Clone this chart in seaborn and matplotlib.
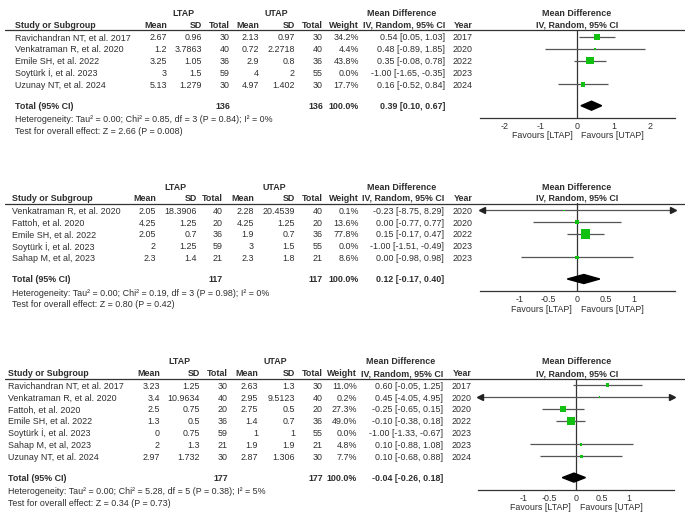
import numpy as np
import pandas as pd
import matplotlib
matplotlib.use("Agg")
import matplotlib.pyplot as plt
import seaborn as sns

# ---- data: panel 1 ----
p1_study = ["Ravichandran NT, et al. 2017", "Venkatraman R, et al. 2020", "Emile SH, et al. 2022",
            "Soytürk İ, et al. 2023", "Uzunay NT, et al. 2024"]
p1_l_mean = [2.67, 1.2, 3.25, 3, 5.13]
p1_l_sd = [0.96, 3.7863, 1.05, 1.5, 1.279]
p1_l_n = [30, 40, 36, 59, 30]
p1_u_mean = [2.13, 0.72, 2.9, 4, 4.97]
p1_u_sd = [0.97, 2.2718, 0.8, 2, 1.402]
p1_u_n = [30, 40, 36, 55, 30]
p1_weight = [34.2, 4.4, 43.8, 0.0, 17.7]
p1_md = [0.54, 0.48, 0.35, -1.00, 0.16]
p1_lo = [0.05, -0.89, -0.08, -1.65, -0.52]
p1_hi = [1.03, 1.85, 0.78, -0.35, 0.84]
p1_year = [2017, 2020, 2022, 2023, 2024]
p1_total = [136, 136, 0.39, 0.10, 0.67]
p1_het = "Heterogeneity: Tau² = 0.00; Chi² = 0.85, df = 3 (P = 0.84); I² = 0%"
p1_test = "Test for overall effect: Z = 2.66 (P = 0.008)"
p1_ticks = [-2, -1, 0, 1, 2]

# ---- data: panel 2 ----
p2_study = ["Venkatraman R, et al. 2020", "Fattoh, et al. 2020", "Emile SH, et al. 2022",
            "Soytürk İ, et al. 2023", "Sahap M, et al, 2023"]
p2_l_mean = [2.05, 4.25, 2.05, 2, 2.3]
p2_l_sd = [18.3906, 1.25, 0.7, 1.25, 1.4]
p2_l_n = [40, 20, 36, 59, 21]
p2_u_mean = [2.28, 4.25, 1.9, 3, 2.3]
p2_u_sd = [20.4539, 1.25, 0.7, 1.5, 1.8]
p2_u_n = [40, 20, 36, 55, 21]
p2_weight = [0.1, 13.6, 77.8, 0.0, 8.6]
p2_md = [-0.23, 0.00, 0.15, -1.00, 0.00]
p2_lo = [-8.75, -0.77, -0.17, -1.51, -0.98]
p2_hi = [8.29, 0.77, 0.47, -0.49, 0.98]
p2_year = [2020, 2020, 2022, 2023, 2023]
p2_total = [117, 117, 0.12, -0.17, 0.40]
p2_het = "Heterogeneity: Tau² = 0.00; Chi² = 0.19, df = 3 (P = 0.98); I² = 0%"
p2_test = "Test for overall effect: Z = 0.80 (P = 0.42)"
p2_ticks = [-1, -0.5, 0, 0.5, 1]

# ---- data: panel 3 ----
p3_study = ["Ravichandran NT, et al. 2017", "Venkatraman R, et al. 2020", "Fattoh, et al. 2020",
            "Emile SH, et al. 2022", "Soytürk İ, et al. 2023", "Sahap M, et al, 2023",
            "Uzunay NT, et al. 2024"]
p3_l_mean = [3.23, 3.4, 2.5, 1.3, 0, 2, 2.97]
p3_l_sd = [1.25, 10.9634, 0.75, 0.5, 0.75, 1.3, 1.732]
p3_l_n = [30, 40, 20, 36, 59, 21, 30]
p3_u_mean = [2.63, 2.95, 2.75, 1.4, 1, 1.9, 2.87]
p3_u_sd = [1.3, 9.5123, 0.5, 0.7, 1, 1.9, 1.306]
p3_u_n = [30, 40, 20, 36, 55, 21, 30]
p3_weight = [11.0, 0.2, 27.3, 49.0, 0.0, 4.8, 7.7]
p3_md = [0.60, 0.45, -0.25, -0.10, -1.00, 0.10, 0.10]
p3_lo = [-0.05, -4.05, -0.65, -0.38, -1.33, -0.88, -0.68]
p3_hi = [1.25, 4.95, 0.15, 0.18, -0.67, 1.08, 0.88]
p3_year = [2017, 2020, 2020, 2022, 2023, 2023, 2024]
p3_total = [177, 177, -0.04, -0.26, 0.18]
p3_het = "Heterogeneity: Tau² = 0.00; Chi² = 5.28, df = 5 (P = 0.38); I² = 5%"
p3_test = "Test for overall effect: Z = 0.34 (P = 0.73)"
p3_ticks = [-1, -0.5, 0, 0.5, 1]

sns.set_theme(style="white")
plt.rcParams["font.family"] = ["Liberation Sans", "DejaVu Sans"]
FS = 6.4
plt.rcParams["font.size"] = FS

W, H = 685, 515
TXT = "#2e2e2e"
LINE = "#555555"
GREEN = "#12c012"

fig = plt.figure(figsize=(W / 100, H / 100), dpi=100)
bg = fig.add_axes([0, 0, 1, 1])
bg.set_xlim(0, W)
bg.set_ylim(H, 0)
bg.axis("off")


def txt(x, y, s, ha="left", bold=False):
    bg.text(x, y, s, ha=ha, va="center_baseline", color=TXT,
            fontweight="bold" if bold else "normal", fontsize=FS)


def fmt(v):
    return f"{v:g}"


panels = [
    dict(study=p1_study, lm=p1_l_mean, lsd=p1_l_sd, ln=p1_l_n, um=p1_u_mean, usd=p1_u_sd, un=p1_u_n,
         w=p1_weight, md=p1_md, lo=p1_lo, hi=p1_hi, year=p1_year, total=p1_total,
         het=p1_het, test=p1_test, ticks=p1_ticks,
         base=12.7, sx=15, cols=[167, 202, 230, 259, 295, 323, 359, 445], yx=463,
         lt=183, ut=276, mdh=402, fx=(480, 675), zero=577.3, unit=36.4),
    dict(study=p2_study, lm=p2_l_mean, lsd=p2_l_sd, ln=p2_l_n, um=p2_u_mean, usd=p2_u_sd, un=p2_u_n,
         w=p2_weight, md=p2_md, lo=p2_lo, hi=p2_hi, year=p2_year, total=p2_total,
         het=p2_het, test=p2_test, ticks=p2_ticks,
         base=186, sx=12, cols=[156, 197, 223, 254, 295, 323, 359, 444], yx=463,
         lt=175, ut=274.5, mdh=402, fx=(480, 675), zero=577, unit=57),
    dict(study=p3_study, lm=p3_l_mean, lsd=p3_l_sd, ln=p3_l_n, um=p3_u_mean, usd=p3_u_sd, un=p3_u_n,
         w=p3_weight, md=p3_md, lo=p3_lo, hi=p3_hi, year=p3_year, total=p3_total,
         het=p3_het, test=p3_test, ticks=p3_ticks,
         base=361, sx=8, cols=[160, 200, 228, 258, 295, 323, 357, 443], yx=462,
         lt=179.5, ut=275.5, mdh=400.5, fx=(478, 674), zero=576, unit=52.7),
]

STEP = 11.8
for p in panels:
    b = p["base"]
    c = p["cols"]
    n = len(p["study"])
    h2 = b + 11.5
    rule = b + 17.5
    rows = b + 24.3 + STEP * np.arange(n)
    tot_y = rows[-1] + 21.5
    axis_y = tot_y + 12

    # headers
    txt(p["lt"], b, "LTAP", "center", True)
    txt(p["ut"], b, "UTAP", "center", True)
    txt(p["mdh"], b, "Mean Difference", "center", True)
    txt(577, b, "Mean Difference", "center", True)
    txt(p["sx"], h2, "Study or Subgroup", bold=True)
    for x, s in zip(c, ["Mean", "SD", "Total", "Mean", "SD", "Total", "Weight", "IV, Random, 95% CI"]):
        txt(x, h2, s, "right", True)
    txt(p["yx"], h2, "Year", "center", True)
    txt(577, h2, "IV, Random, 95% CI", "center", True)
    bg.plot([5, W], [rule, rule], color="#333333", lw=0.9)

    # study rows
    for i in range(n):
        y = rows[i]
        txt(p["sx"], y, p["study"][i])
        vals = [fmt(p["lm"][i]), fmt(p["lsd"][i]), str(p["ln"][i]), fmt(p["um"][i]),
                fmt(p["usd"][i]), str(p["un"][i]), f"{p['w'][i]:.1f}%",
                f"{p['md'][i]:.2f} [{p['lo'][i]:.2f}, {p['hi'][i]:.2f}]"]
        for x, s in zip(c, vals):
            txt(x, y, s, "right")
        txt(p["yx"], y, str(p["year"][i]), "center")

    # totals
    t = p["total"]
    txt(p["sx"], tot_y, "Total (95% CI)", bold=True)
    txt(c[2], tot_y, str(t[0]), "right", True)
    txt(c[5], tot_y, str(t[1]), "right", True)
    txt(c[6], tot_y, "100.0%", "right", True)
    txt(c[7], tot_y, f"{t[2]:.2f} [{t[3]:.2f}, {t[4]:.2f}]", "right", True)
    txt(p["sx"], tot_y + 13, p["het"])
    txt(p["sx"], tot_y + 24.5, p["test"])

    # forest plot axes
    x0, x1 = p["fx"]
    ax = fig.add_axes([x0 / W, 1 - axis_y / H, (x1 - x0) / W, (axis_y - rule) / H])
    xlim = ((x0 - p["zero"]) / p["unit"], (x1 - p["zero"]) / p["unit"])
    ax.set_xlim(*xlim)
    ax.set_ylim(axis_y, rule)
    ax.patch.set_alpha(0)
    for side in ["top", "left", "right"]:
        ax.spines[side].set_visible(False)
    ax.spines["bottom"].set_color("#333333")
    ax.spines["bottom"].set_linewidth(0.9)
    ax.set_yticks([])
    ax.set_xticks(p["ticks"])
    ax.set_xticklabels([fmt(v) for v in p["ticks"]])
    ax.tick_params(axis="x", direction="inout", length=5, width=0.8, color="#333333",
                   pad=0.5, labelsize=FS, labelcolor=TXT)
    ax.axvline(0, color="#333333", lw=0.9)

    df = pd.DataFrame({"md": p["md"], "lo": p["lo"], "hi": p["hi"], "w": p["w"], "y": rows})
    df = df[df["w"] > 0]
    lo_c = df["lo"].clip(lower=xlim[0] + 0.01)
    hi_c = df["hi"].clip(upper=xlim[1] - 0.01)
    ax.hlines(df["y"], lo_c, hi_c, color=LINE, lw=0.9)
    for _, r in df.iterrows():
        if r["lo"] < xlim[0]:
            ax.plot([xlim[0] + 0.01 * (xlim[1] - xlim[0])], [r["y"]], marker="<", ms=4,
                    color="#222222", clip_on=False)
        if r["hi"] > xlim[1]:
            ax.plot([xlim[1] - 0.01 * (xlim[1] - xlim[0])], [r["y"]], marker=">", ms=4,
                    color="#222222", clip_on=False)
    side_px = np.maximum(np.sqrt(df["w"].values) * 1.1, 1.4)
    sns.scatterplot(x=df["md"], y=df["y"], s=(side_px * 0.72) ** 2, marker="s", color=GREEN,
                    linewidth=0, ax=ax, legend=False, zorder=3)
    ax.set_xlabel("")
    ax.set_ylabel("")

    # pooled diamond
    hd = 4.5
    ax.fill([t[3], t[2], t[4], t[2]], [tot_y, tot_y - hd, tot_y, tot_y + hd], color="black", zorder=4)

    ax.annotate("Favours [LTAP]", xy=(0, 0), xycoords=("data", "axes fraction"),
                xytext=(-3.5, -17 * 0.72), textcoords="offset points", ha="right",
                va="center_baseline", fontsize=FS, color=TXT)
    ax.annotate("Favours [UTAP]", xy=(0, 0), xycoords=("data", "axes fraction"),
                xytext=(3, -17 * 0.72), textcoords="offset points", ha="left",
                va="center_baseline", fontsize=FS, color=TXT)

fig.savefig("out.png", dpi=100, facecolor="white")
